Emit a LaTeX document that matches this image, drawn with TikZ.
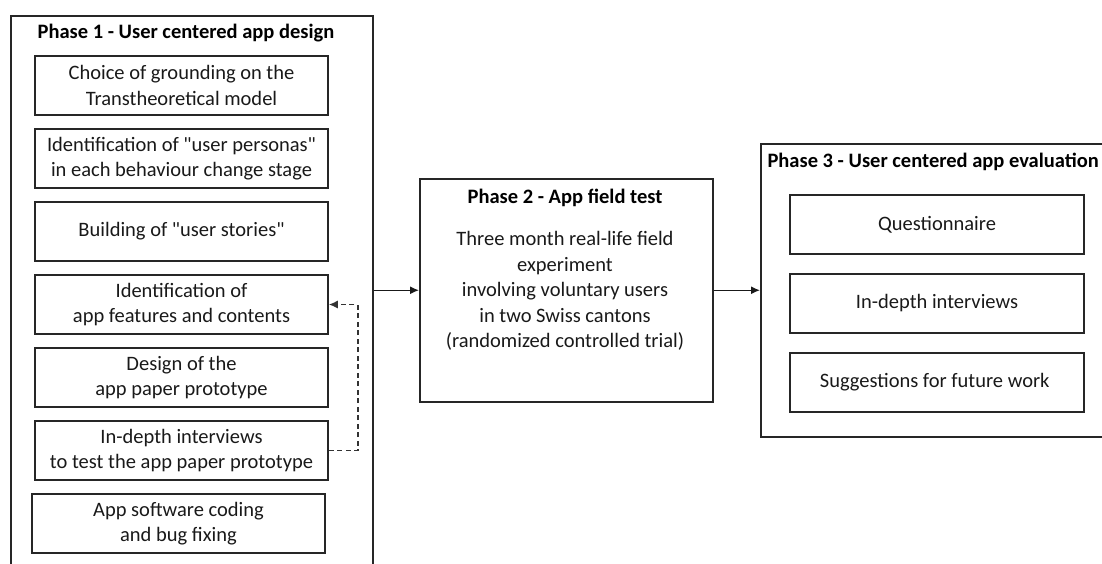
\documentclass[tikz,border=0pt]{standalone}
\usepackage{fontspec}
\setmainfont{Carlito}
\usetikzlibrary{arrows.meta, positioning, calc}

\begin{document}
\begin{tikzpicture}[
        x=1pt, y=-1pt,
        phasebox/.style={
            draw=black!85,
            line width=1.5pt,
            inner sep=0pt,
            anchor=north west
        },
        stepbox/.style={
            draw=black!85,
            line width=1.5pt,
            minimum width=293pt,
            minimum height=59pt,
            inner sep=0pt,
            align=center,
            text=black!90,
            font=\fontsize{20.5}{25.5}\selectfont
        },
        phasetitle/.style={
            text=black,
            font=\fontsize{20.5}{25.5}\selectfont\bfseries
        },
        flow/.style={
            -{Latex[length=9pt, width=8pt]},
            line width=1.4pt,
            draw=black!90
        },
        feedback/.style={
            -{Latex[length=9pt, width=8pt]},
            line width=1.5pt,
            draw=black!80,
            dash pattern=on 5pt off 3.5pt
        }
    ]
        \useasboundingbox (0,0) rectangle (1102,563);
        \clip (0,0) rectangle (1102,563);

        % the three phases
        \node[phasebox, minimum width=362pt, minimum height=580pt] (ph1) at (10,15) {};
        \node[phasebox, minimum width=293pt, minimum height=223pt] (ph2) at (419,178) {};
        \node[phasebox, minimum width=360pt, minimum height=293pt] (ph3) at (760,143) {};

        \node[phasetitle] (t1) at (186,33) {Phase 1 - User centered app design};
        \node[phasetitle] (t2) at (565,198) {Phase 2 - App field test};
        \node[phasetitle, anchor=west] (t3) at (764,162) {Phase 3 - User centered app evaluation};

        \node[align=center, text=black!90, font=\fontsize{20.5}{25.5}\selectfont] (trial) at (565,291)
            {Three month real-life field\\ experiment\\ involving voluntary users\\ in two Swiss cantons\\ (randomized controlled trial)};

        % steps of phase 1
        \node[stepbox] (b1) at (181.5,85.5) {Choice of grounding on the\\ Transtheoretical model};
        \node[stepbox] (b2) at (181.5,158.5) {Identification of \textquotedbl user personas\textquotedbl\\ in each behaviour change stage};
        \node[stepbox] (b3) at (181.5,231.5) {Building of \textquotedbl user stories\textquotedbl};
        \node[stepbox] (b4) at (181.5,304.5) {Identification of\\ app features and contents};
        \node[stepbox] (b5) at (181.5,377.5) {Design of the\\ app paper prototype};
        \node[stepbox] (b6) at (181.5,450.5) {In-depth interviews\\ to test the app paper prototype};
        \node[stepbox] (b7) at (178.5,523.5) {App software coding\\ and bug fixing};

        % steps of phase 3
        \foreach \texto [count=\n] in {
            Questionnaire,
            In-depth interviews,
            Suggestions for future work
        } {
            \node[stepbox, minimum width=294pt] (e\n) at (937,{224.5+79*(\n-1)}) {\texto};
        }

        \draw[flow] (ph1.east |- ph2.west) -- (ph2.west);
        \draw[flow] (ph2.east) -- (ph3.west |- ph2.east);
        \draw[feedback] (b6.east) -- ++(29,0) |- (b4.east);
    \end{tikzpicture}
\end{document}
